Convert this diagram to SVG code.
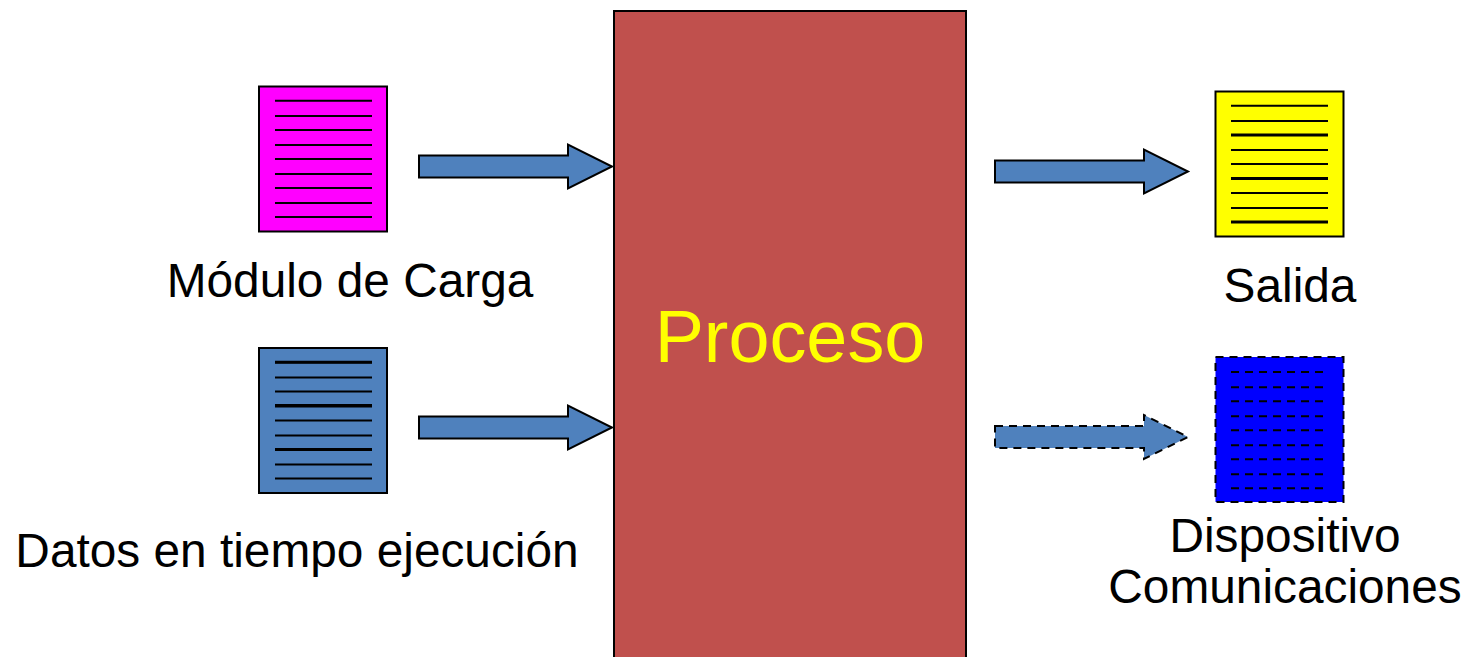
<svg xmlns="http://www.w3.org/2000/svg" width="1466" height="657" viewBox="0 0 1466 657">
<style>
text{font-family:"Liberation Sans",Arial,sans-serif;font-size:47.800px;fill:#000}
.doc{stroke:#000;stroke-width:2}
.ln{stroke:#000;stroke-width:2;fill:none}
.thick{stroke:#000;stroke-width:3;fill:none}
.arrow{fill:#4F81BD;stroke:#000;stroke-width:2}
.dash{stroke-dasharray:8 6}
</style>
<defs>
<path id="arr" d="M0 -11 H149 V-22 L193 0 L149 22 V11 H0 Z"/>
<path id="lines" d="M16 14.700H113M16 30H113M16 44H113M16 59H113M16 73H113M16 88H113M16 102H113M16 117H113M16 131H113"/>
</defs>
<rect width="1466" height="657" fill="#fff"/>
<g id="proceso">
<rect x="614" y="11" width="352" height="660" fill="#C0504D" stroke="#000" stroke-width="2"/>
<text x="790" y="362" text-anchor="middle" style="font-size:73.800px;fill:#FFFF00">Proceso</text>
</g>
<g id="modulo-carga">
<rect class="doc" x="259" y="86.500" width="128" height="145" fill="#FF00FF"/>
<use href="#lines" class="ln" x="259" y="86"/>
<text x="350" y="297" text-anchor="middle">Módulo de Carga</text>
</g>
<g id="datos-ejecucion">
<rect class="doc" x="259" y="348" width="128" height="145" fill="#4F81BD"/>
<use href="#lines" class="ln" x="259" y="347.500"/>
<path class="thick" d="M275 362.300H372M275 405.500H372M275 449.500H372"/>
<text x="297" y="567" text-anchor="middle">Datos en tiempo ejecución</text>
</g>
<g id="salida">
<rect class="doc" x="1215.500" y="91.500" width="128" height="145" fill="#FFFF00"/>
<use href="#lines" class="ln" x="1215" y="91"/>
<path class="thick" d="M1231 135H1328M1231 178.500H1328M1231 222H1328"/>
<text x="1290" y="302" text-anchor="middle">Salida</text>
</g>
<g id="dispositivo">
<rect class="doc dash" x="1215.500" y="357" width="128" height="145" fill="#0000FF"/>
<use href="#lines" class="ln dash" x="1215" y="357.300"/>
<text x="1285" y="552" text-anchor="middle">Dispositivo</text>
<text x="1285" y="603" text-anchor="middle">Comunicaciones</text>
</g>
<g id="connectors">
<use href="#arr" class="arrow" x="419" y="166.500"/>
<use href="#arr" class="arrow" x="419" y="427.500"/>
<use href="#arr" class="arrow" x="995" y="171.500"/>
<use href="#arr" class="arrow dash" x="995" y="437"/>
</g>
</svg>
